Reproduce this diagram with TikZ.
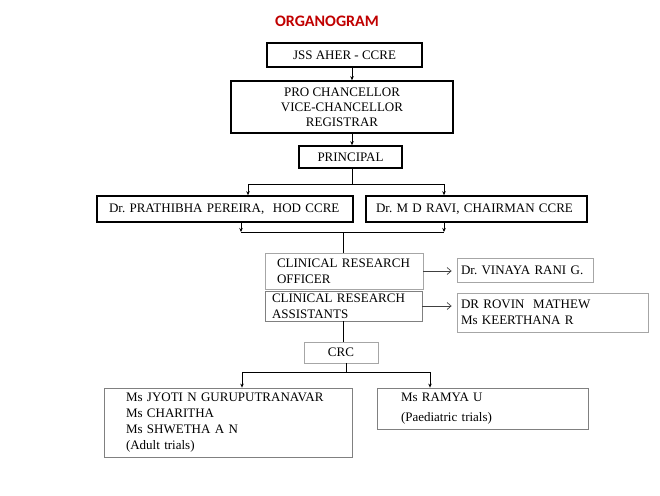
\documentclass[tikz,border=0pt]{standalone}
\usepackage{fontspec}
\setmainfont{Liberation Serif}
\newfontfamily\titlefont{Carlito}
\usetikzlibrary{arrows.meta}
\frenchspacing
\definecolor{titlered}{HTML}{C00000}
\definecolor{lightbox}{HTML}{A6A6A6}
\definecolor{darkbox}{HTML}{808080}
\tikzset{
  txt/.style={font=\fontsize{13}{15}\selectfont},
  tbox/.style={draw=black, line width=1.6pt, txt, inner sep=0pt, align=center},
  lbox/.style={draw=lightbox, line width=0.8pt, txt, inner sep=0pt},
  dbox/.style={draw=darkbox, line width=0.8pt, txt, inner sep=0pt},
  arr/.style={-{Stealth[length=4pt,width=3.5pt]}, line width=0.7pt},
  oarr/.style={-{Straight Barb[length=4pt,width=7pt]}, line width=0.7pt, draw=black!75, shorten >=5pt},
  ln/.style={line width=0.7pt}
}
\begin{document}
\begin{tikzpicture}[x=1pt,y=-1pt]
\useasboundingbox (0,0) rectangle (660,495);
\node[font=\titlefont\bfseries\fontsize{16}{18}\selectfont, text=titlered] (title) at (327,21) {ORGANOGRAM};

\node[tbox, minimum width=155pt, minimum height=24pt] (jss) at (344.5,55) {JSS AHER - CCRE};
\node[tbox, minimum width=222pt, minimum height=52pt] (pro) at (342,107) {PRO CHANCELLOR\\VICE-CHANCELLOR\\REGISTRAR};
\node[tbox, minimum width=103pt, minimum height=22pt] (princ) at (350.5,157) {PRINCIPAL};

\node[tbox, minimum width=256pt, minimum height=26pt, inner xsep=12pt, text width=232pt, align=left] (prath) at (225,209) {\mbox{Dr. PRATHIBHA PEREIRA,\ \ HOD CCRE}};
\node[tbox, minimum width=221pt, minimum height=26pt, inner xsep=10pt, text width=201pt, align=left] (ravi) at (476.5,209) {\mbox{Dr. M D RAVI, CHAIRMAN CCRE}};

\node[lbox, minimum width=158pt, minimum height=36pt, inner xsep=12pt, text width=134pt, align=left, font=\fontsize{13}{16}\selectfont] (cro) at (344,271) {CLINICAL RESEARCH\\OFFICER};
\node[dbox, minimum width=157pt, minimum height=30pt, inner xsep=7pt, text width=143pt, align=left, font=\fontsize{13}{16}\selectfont] (cra) at (343.5,306) {CLINICAL RESEARCH\\ASSISTANTS};
\node[lbox, minimum width=136pt, minimum height=24pt, inner xsep=4pt, text width=128pt, align=left] (vin) at (525,270) {\mbox{Dr. VINAYA RANI G.}};
\node[lbox, minimum width=191pt, minimum height=39pt, inner xsep=4pt, text width=183pt, align=left, font=\fontsize{13}{16}\selectfont] (rov) at (552.5,312.5) {DR ROVIN\ \ MATHEW\\Ms KEERTHANA R};

\node[lbox, minimum width=74pt, minimum height=21pt, align=center] (crc) at (341,352.5) {CRC};

\node[dbox, minimum width=248pt, minimum height=69pt, inner xsep=22pt, text width=204pt, align=left, font=\fontsize{13}{15.8}\selectfont] (adult) at (228,422.5) {\mbox{Ms JYOTI N GURUPUTRANAVAR}\\Ms CHARITHA\\Ms SHWETHA A N\\(Adult trials)};
\node[dbox, minimum width=211pt, minimum height=41pt, inner xsep=24pt, text width=163pt, align=left, font=\fontsize{13}{20}\selectfont] (ramya) at (482.5,408.5) {Ms RAMYA U\\(Paediatric trials)};

% connectors
\coordinate (cx) at (352,0);
\draw[arr] (jss.south -| cx) -- (pro.north -| cx);
\draw[arr] (pro.south -| cx) -- (princ.north -| cx);
\coordinate (j1) at (352,184);
\coordinate (a1) at (248,0);
\coordinate (a2) at (444,0);
\draw[ln] (princ.south -| j1) -- (j1);
\draw[arr] (j1) -| (prath.north -| a1);
\draw[arr] (j1) -| (ravi.north -| a2);

\coordinate (j2) at (343,232);
\coordinate (b1) at (241,0);
\coordinate (b2) at (444,0);
\draw[arr] (prath.south -| b1) -- (b1 |- j2);
\draw[arr] (ravi.south -| b2) -- (b2 |- j2);
\draw[ln] (b1 |- j2) -- (b2 |- j2);
\draw[ln] (j2) -- (cro.north -| j2);

\draw[oarr] (cro.east) -- (cro.east -| vin.west);
\draw[oarr] (cra.east) -- (cra.east -| rov.west);

\draw[ln] (cra.south -| j2) -- (crc.north -| j2);
\coordinate (j3) at (346,372);
\coordinate (c1) at (242,0);
\coordinate (c2) at (430,0);
\draw[ln] (crc.south -| j3) -- (j3);
\draw[arr] (j3) -| (adult.north -| c1);
\draw[arr] (j3) -| (ramya.north -| c2);
\end{tikzpicture}
\end{document}
